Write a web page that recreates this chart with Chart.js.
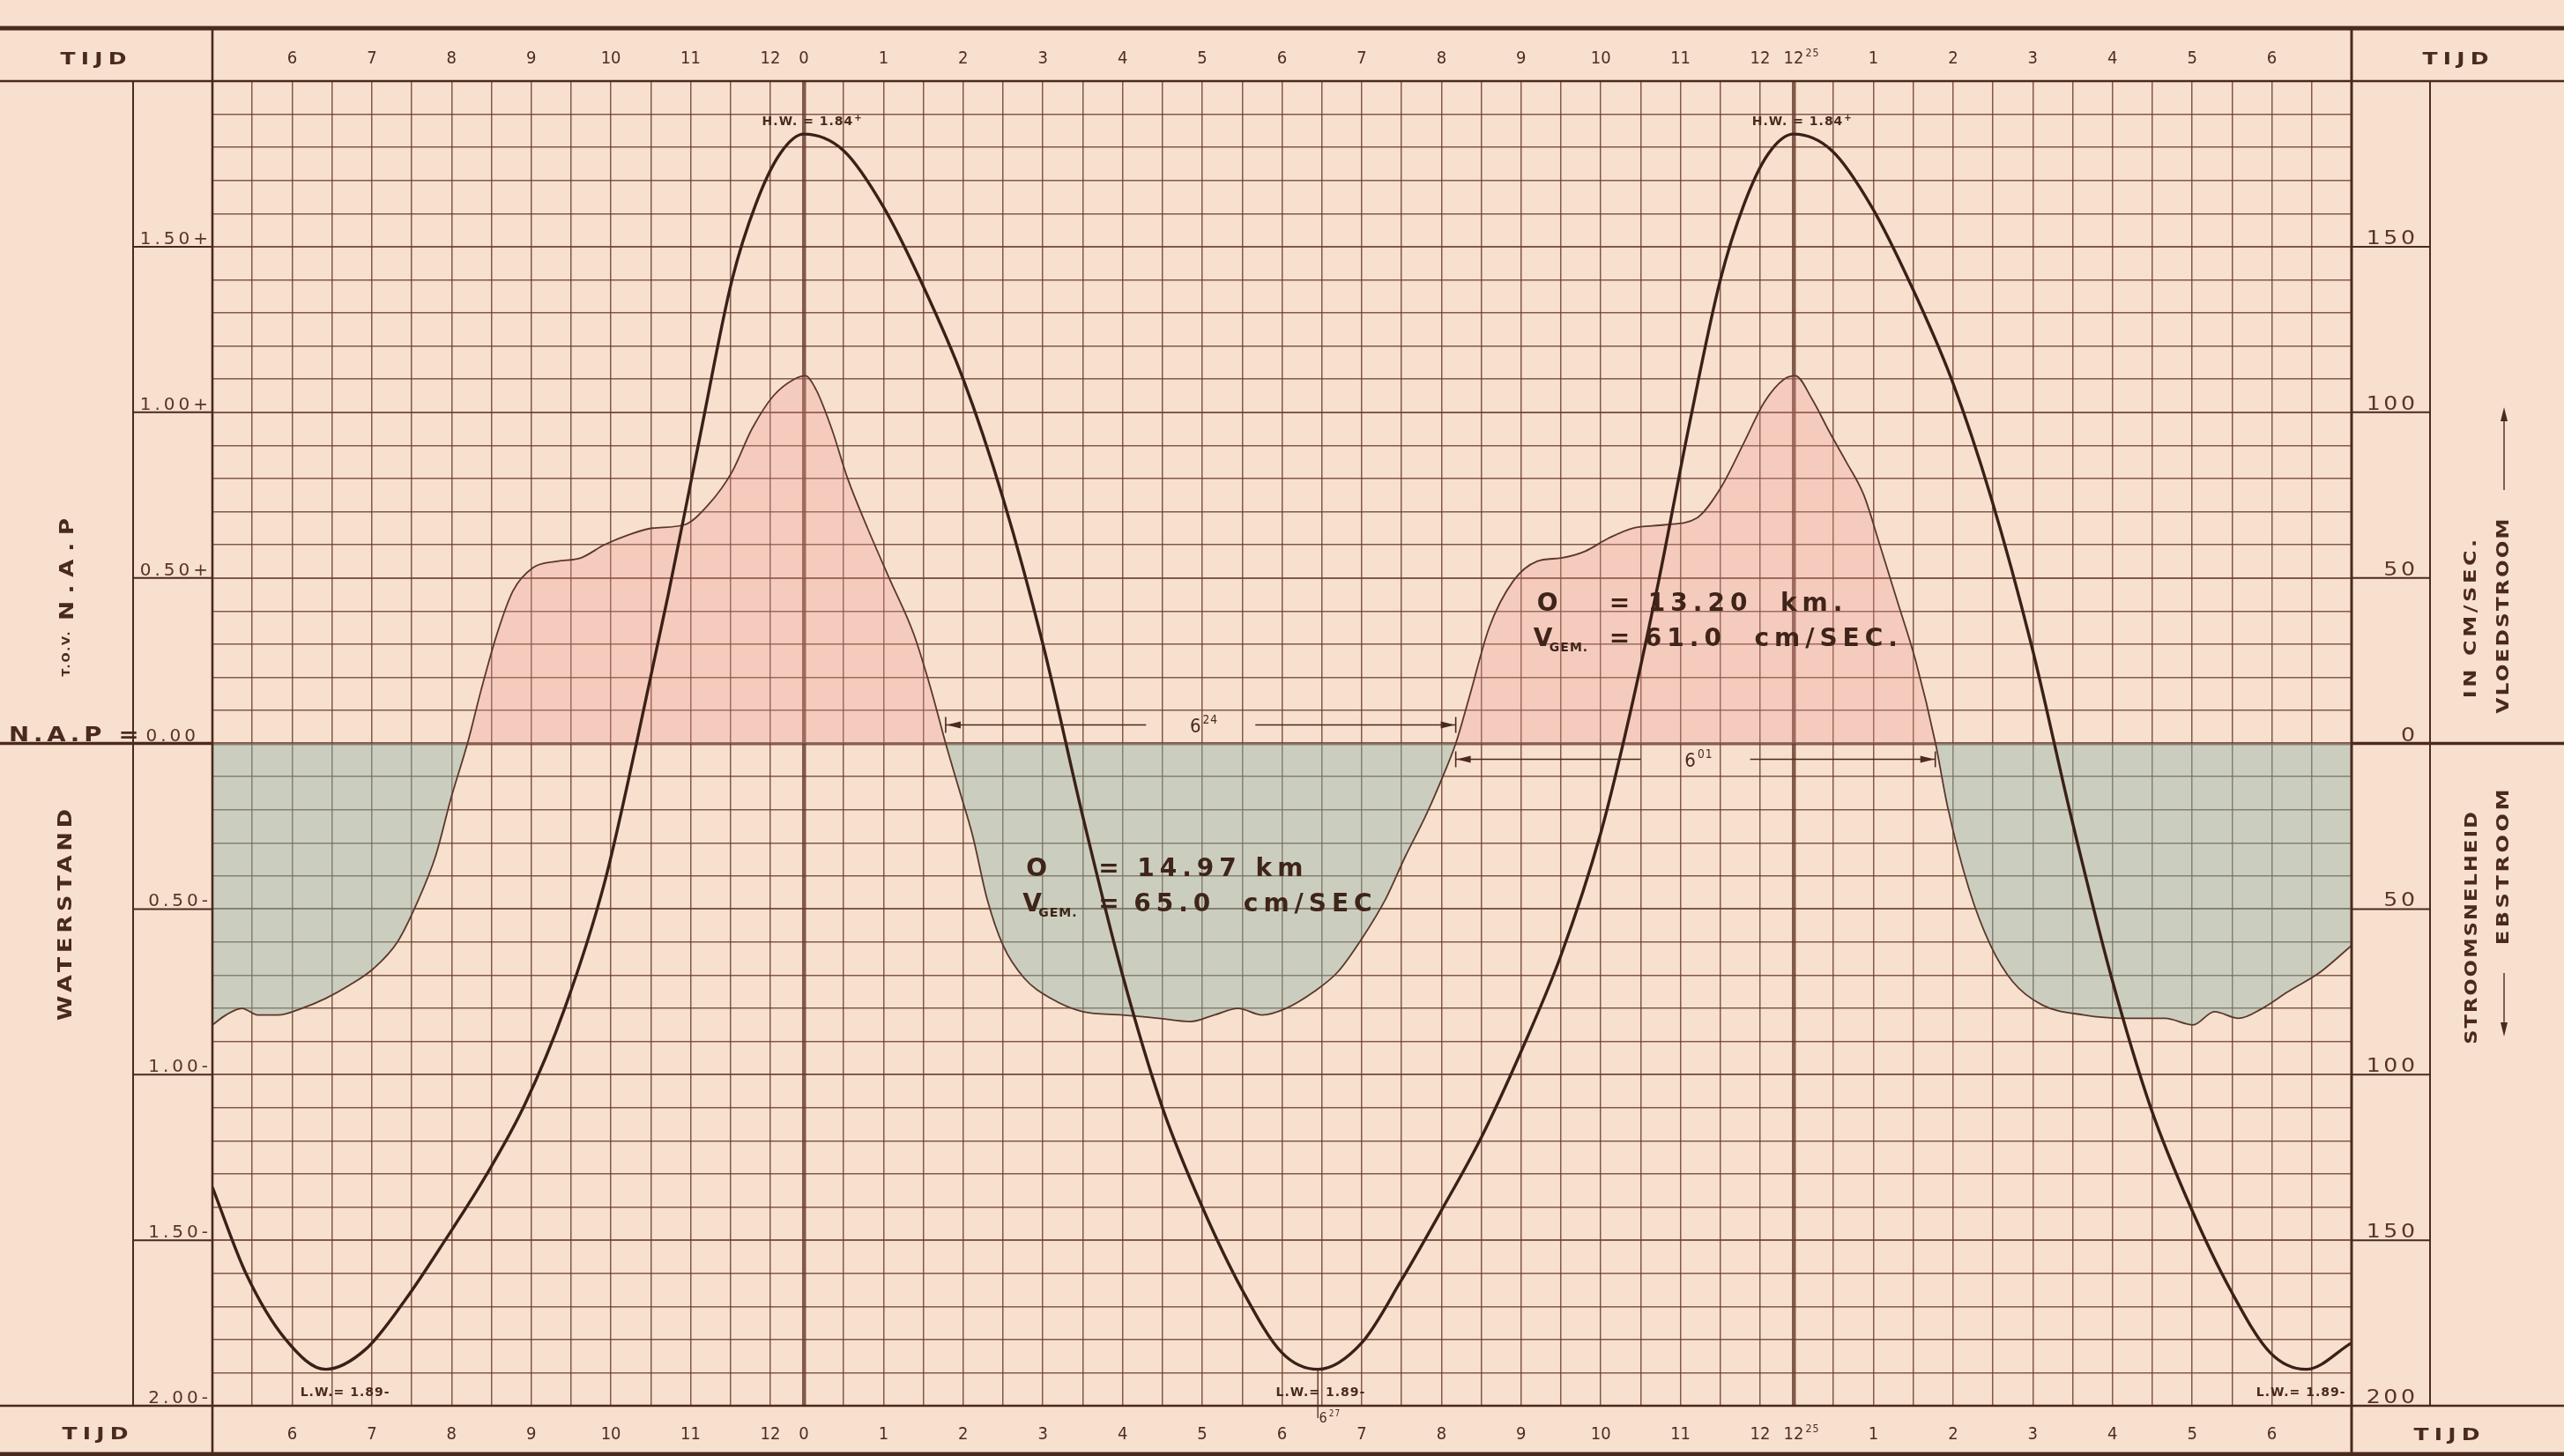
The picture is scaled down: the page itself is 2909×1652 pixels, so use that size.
<!DOCTYPE html>
<html lang="nl">
<head>
<meta charset="utf-8">
<title>Getijkromme – waterstand en stroomsnelheid</title>
<script src="https://cdn.jsdelivr.net/npm/chart.js@4.4.1/dist/chart.umd.min.js"></script>
<style>
  html, body { margin: 0; padding: 0; background: #f8e0ce; }
  #sheet { position: relative; width: 2909px; height: 1652px; }
  canvas { display: block; }
</style>
</head>
<body>
<div id="sheet"><canvas id="tide" width="2909" height="1652"></canvas></div>
<script>
// ---------- time axis: hours after the first high water ----------
const hourLabels = ['6','7','8','9','10','11','12','0','1','2','3','4','5','6','7','8','9','10','11','12','12^25','1','2','3','4','5','6'];
const hourTimes  = [-6.42,-5.42,-4.42,-3.42,-2.42,-1.42,-0.42,0,1,2,3,4,5,6,7,8,9,10,11,12,12.42,13.42,14.42,15.42,16.42,17.42,18.42];
const highWaterTimes = [0, 12.42];
const X_MIN = -7.42, X_MAX = 19.42;

// ---------- water level, m relative to N.A.P. ----------
const tideHours  = [-7.42,-7.0,-6.5,-6.0,-5.5,-5.0,-4.5,-4.0,-3.5,-3.0,-2.5,-2.1,-1.7,-1.3,-0.9,-0.6,-0.3,0,
                    0.5,1.0,1.5,2.0,2.5,3.0,3.5,4.0,4.5,5.0,5.5,6.0,6.45,7.0,7.5,8.0,8.5,9.0,9.5,10.0,10.3,
                    10.7,11.1,11.5,11.8,12.1,12.42,12.9,13.4,13.9,14.4,14.9,15.4,15.9,16.4,16.9,17.4,17.9,18.4,18.85,19.42];
const tideLevels = [-1.34,-1.60,-1.80,-1.89,-1.83,-1.68,-1.50,-1.31,-1.09,-0.80,-0.42,0.00,0.45,0.93,1.40,1.63,1.78,1.84,
                    1.79,1.62,1.38,1.10,0.74,0.30,-0.22,-0.70,-1.10,-1.40,-1.65,-1.84,-1.89,-1.81,-1.62,-1.41,-1.19,-0.93,-0.64,-0.27,0.02,
                    0.46,0.95,1.40,1.63,1.78,1.84,1.79,1.62,1.38,1.10,0.74,0.30,-0.22,-0.70,-1.10,-1.40,-1.65,-1.84,-1.89,-1.81];

// ---------- current speed, cm/sec (flood +, ebb -) ----------
const currentHours  = [-7.42,-7.25,-7.05,-6.85,-6.6,-6.3,-6.0,-5.7,-5.4,-5.1,-4.85,-4.62,-4.42,-4.22,-4.05,-3.85,-3.65,-3.4,-3.1,-2.8,-2.5,-2.2,-1.9,-1.5,-1.2,-0.9,-0.65,-0.38,-0.12,0.02,
                       0.15,0.35,0.55,0.8,1.07,1.38,1.6,1.78,1.95,2.12,2.3,2.5,2.77,3.1,3.5,4.0,4.45,4.85,5.15,5.45,5.75,6.05,6.4,6.7,7.0,7.3,7.55,7.8,8.0,8.18,
                       8.35,8.6,8.9,9.2,9.5,9.8,10.1,10.4,10.8,11.2,11.5,11.8,12.05,12.3,12.44,12.65,12.87,13.08,13.3,13.5,13.72,13.95,14.2,
                       14.35,14.62,14.89,15.17,15.54,16.06,16.57,17.08,17.43,17.7,18.0,18.3,18.62,19.03,19.42];
const currentSpeeds = [-85,-82,-80,-82,-82,-80,-77,-73,-68,-60,-48,-34,-16,0,16,33,46,53,55,56,60,63,65,66,72,82,95,105,110,111,
                       107,95,80,65,50,33,16,0,-14,-28,-47,-61,-71,-77,-81,-82,-83,-84,-82,-80,-82,-80,-75,-69,-59,-47,-34,-22,-11,0,
                       14,35,49,55,56,58,62,65,66,68,77,91,103,110,111,104,94,85,75,60,43,25,0,
                       -19,-44,-61,-72,-79,-82,-83,-83,-85,-81,-83,-80,-75,-69,-61];

// ---------- axis labels ----------
const levelTicks      = [1.5, 1.0, 0.5, 0, -0.5, -1.0, -1.5, -2.0];
const levelTickLabels = ['1.50+','1.00+','0.50+','0.00','0.50-','1.00-','1.50-','2.00-'];
const speedTicks      = [150, 100, 50, 0, -50, -100, -150, -200];
const speedTickLabels = ['150','100','50','0','50','100','150','200'];

// ---------- tide marks ----------
const highWater = { level: 1.84, text: 'H.W. = 1.84^+' };
const lowWater  = { level: -1.89, times: [-6.0, 6.45, 18.85], labelTimes: [-5.76, 6.48, 18.78], text: 'L.W.= 1.89-' };
const lowWaterClock = '6^27';
const ebbStart = 1.78;
const ebbDuration = 6 + 24 / 60, ebbLabel = '6^24';
const floodDuration = 6 + 1 / 60, floodLabel = '6^01';
const ebbSummary   = { dist: '14.97 km',  speed: '65.0  cm/SEC'  };
const floodSummary = { dist: '13.20  km.', speed: '61.0  cm/SEC.' };

// ---------- sheet layout ----------
const W = 2909, H = 1652;
const HEAD_TOP = 32, FOOT_BOTTOM = 1650;
const COL_LEFT = 151, COL_RIGHT = 2757;
const PAPER = '#f8e0ce';
const INK = '#4a2a1e';
const RULE = 'rgba(104,60,44,0.82)';
const FONT = '"DejaVu Sans", "Liberation Sans", sans-serif';
const NARROW = '"DejaVu Sans Condensed", "Liberation Sans Narrow", "DejaVu Sans", sans-serif';

// half-hour rulings; the two high-water lines carry their own 30-minute series
const gridTimes = [];
for (let k = 0; k <= 14; k++) gridTimes.push(-0.42 - 0.5 * k);
for (let k = 0; k <= 24; k++) gridTimes.push(0.5 * k);
for (let k = 0; k <= 14; k++) gridTimes.push(12.42 + 0.5 * k);
const levelGrid = [];
for (let k = -20; k <= 20; k++) levelGrid.push(k / 10);

function txt(ctx, s, x, y, o) {
  o = o || {};
  ctx.save();
  ctx.fillStyle = o.color || INK;
  ctx.font = (o.weight || 'normal') + ' ' + (o.size || 18) + 'px ' + (o.family || FONT);
  const sp = o.spacing || 0;
  try { ctx.letterSpacing = sp + 'px'; } catch (e) {}
  ctx.textBaseline = o.baseline || 'alphabetic';
  ctx.textAlign = 'left';
  const sx = o.stretch || 1;
  const w = (ctx.measureText(s).width - sp) * sx;
  let left = x;
  if (o.align === 'center') left = x - w / 2;
  else if (o.align === 'right') left = x - w;
  ctx.translate(left, y);
  ctx.scale(sx, 1);
  ctx.fillText(s, 0, 0);
  ctx.restore();
  return w;
}
function vtxt(ctx, s, cx, cy, o) {
  ctx.save();
  ctx.translate(cx, cy);
  ctx.rotate(-Math.PI / 2);
  txt(ctx, s, 0, 0, Object.assign({ align: 'center', baseline: 'middle' }, o));
  ctx.restore();
}
// label with a raised part after '^', the base part centred on x
function supTxt(ctx, label, x, y, o) {
  const parts = label.split('^');
  const w = txt(ctx, parts[0], x, y, Object.assign({}, o, { align: 'center' }));
  if (parts[1]) txt(ctx, parts[1], x + w / 2 + 2, y - o.size * 0.42, Object.assign({}, o, { size: o.size * 0.62, align: 'left', spacing: 1 }));
}
function line(ctx, x1, y1, x2, y2, w, c) {
  ctx.save();
  ctx.strokeStyle = c || INK;
  ctx.lineWidth = w;
  ctx.beginPath(); ctx.moveTo(x1, y1); ctx.lineTo(x2, y2); ctx.stroke();
  ctx.restore();
}
function arrowHead(ctx, x, y, dx, dy, len, half) {
  ctx.save();
  ctx.fillStyle = INK;
  ctx.beginPath();
  ctx.moveTo(x, y);
  ctx.lineTo(x - dx * len - dy * half, y - dy * len - dx * half);
  ctx.lineTo(x - dx * len + dy * half, y - dy * len + dx * half);
  ctx.closePath(); ctx.fill();
  ctx.restore();
}
// dimension line  |<----  label  ---->|
function dimLine(ctx, x1, x2, y, label) {
  const mid = (x1 + x2) / 2;
  const gap = 62;
  line(ctx, x1, y, mid - gap, y, 1.4);
  line(ctx, mid + gap, y, x2, y, 1.4);
  line(ctx, x1, y - 9, x1, y + 9, 1.6);
  line(ctx, x2, y - 9, x2, y + 9, 1.6);
  arrowHead(ctx, x1 + 1, y, -1, 0, 16, 4);
  arrowHead(ctx, x2 - 1, y, 1, 0, 16, 4);
  supTxt(ctx, label, mid - 6, y + 8, { size: 22, family: NARROW });
}

const sheetPlugin = {
  id: 'sheet',
  beforeDraw(chart) {
    const ctx = chart.ctx;
    ctx.save();
    ctx.fillStyle = PAPER;
    ctx.fillRect(0, 0, W, H);
    ctx.restore();
  },
  afterDraw(chart) {
    const ctx = chart.ctx;
    const a = chart.chartArea;
    const xs = chart.scales.x, ys = chart.scales.y, vs = chart.scales.y2;
    const y0 = ys.getPixelForValue(0);

    // outer frame of the sheet
    line(ctx, 0, HEAD_TOP, W, HEAD_TOP, 5);
    line(ctx, 0, a.top, W, a.top, 2.6);
    line(ctx, 0, a.bottom, W, a.bottom, 2.6);
    line(ctx, 0, FOOT_BOTTOM, W, FOOT_BOTTOM, 5);
    line(ctx, a.left, HEAD_TOP, a.left, H, 2.6);
    line(ctx, a.right, HEAD_TOP, a.right, H, 3);
    line(ctx, COL_LEFT, a.top, COL_LEFT, a.bottom, 2);
    line(ctx, COL_RIGHT, a.top, COL_RIGHT, a.bottom, 2);
    line(ctx, 0, y0, a.left, y0, 3.4);
    line(ctx, a.right, y0, W, y0, 3.4);

    // level scale (left) and speed scale (right)
    levelTicks.forEach((v, i) => {
      const y = ys.getPixelForValue(v);
      if (v !== 0 && v > -2) line(ctx, COL_LEFT, y, a.left, y, 2);
      const isZero = v === 0;
      txt(ctx, levelTickLabels[i], isZero ? 222 : 236, y - 3, { size: 20, spacing: 4, align: 'right', color: '#5a3426' });
    });
    speedTicks.forEach((v, i) => {
      const y = vs.getPixelForValue(v);
      if (v !== 0 && v > -200) line(ctx, a.right, y, COL_RIGHT, y, 2);
      txt(ctx, speedTickLabels[i], 2740, y - 3, { size: 21, spacing: 3, stretch: 1.2, align: 'right', color: '#5a3426' });
    });

    // time scale in header and footer
    const hourStyle = { size: 20, family: NARROW, color: '#4e2c20' };
    hourLabels.forEach((lab, i) => {
      const x = xs.getPixelForValue(hourTimes[i]);
      supTxt(ctx, lab, x, 72, hourStyle);
      supTxt(ctx, lab, x, 1633, hourStyle);
    });
    const tijd = { size: 20, weight: 'bold', spacing: 5, stretch: 1.25, align: 'center' };
    txt(ctx, 'TIJD', 106, 73, tijd);
    txt(ctx, 'TIJD', 108, 1633, tijd);
    txt(ctx, 'TIJD', 2786, 73, tijd);
    txt(ctx, 'TIJD', 2776, 1634, tijd);

    // axis titles
    txt(ctx, 'N.A.P =', 10, y0 - 3, { size: 23, weight: 'bold', spacing: 4, stretch: 1.2 });
    vtxt(ctx, 'WATERSTAND', 76, 1038, { size: 21, weight: 'bold', spacing: 4, stretch: 1.22 });
    vtxt(ctx, 'T.O.V.', 76, 742, { size: 13, weight: 'bold', spacing: 2 });
    vtxt(ctx, 'N.A.P', 77, 646, { size: 22, weight: 'bold', spacing: 7, stretch: 1.2 });
    vtxt(ctx, 'IN CM/SEC.', 2804, 702, { size: 20, weight: 'bold', spacing: 3, stretch: 1.2 });
    vtxt(ctx, 'VLOEDSTROOM', 2841, 699, { size: 20, weight: 'bold', spacing: 2, stretch: 1.15 });
    vtxt(ctx, 'STROOMSNELHEID', 2805, 1053, { size: 20, weight: 'bold', spacing: 2, stretch: 1.12 });
    vtxt(ctx, 'EBSTROOM', 2841, 984, { size: 20, weight: 'bold', spacing: 3, stretch: 1.2 });
    line(ctx, 2841, 556, 2841, 472, 1.4);
    arrowHead(ctx, 2841, 462, 0, -1, 16, 4);
    line(ctx, 2841, 1104, 2841, 1166, 1.4);
    arrowHead(ctx, 2841, 1176, 0, 1, 16, 4);

    // high and low water marks
    highWaterTimes.forEach(t => {
      const x = xs.getPixelForValue(t);
      const y = ys.getPixelForValue(highWater.level) - 10;
      const parts = highWater.text.split('^');
      const w = txt(ctx, parts[0], x + 4, y, { size: 14, weight: 'bold', spacing: 1, align: 'center' });
      txt(ctx, parts[1], x + 4 + w / 2 + 2, y - 5, { size: 10, weight: 'bold' });
    });
    lowWater.labelTimes.forEach(t => {
      const x = xs.getPixelForValue(t);
      const y = ys.getPixelForValue(lowWater.level) + 30;
      txt(ctx, lowWater.text, x, y, { size: 14, weight: 'bold', spacing: 1, align: 'center' });
    });
    const xLw = xs.getPixelForValue(lowWater.times[1]);
    line(ctx, xLw, ys.getPixelForValue(lowWater.level), xLw, a.bottom + 14, 1.3);
    supTxt(ctx, lowWaterClock, xLw + 6, 1614, { size: 16, family: NARROW });

    // durations of ebb and flood current
    const xe1 = xs.getPixelForValue(ebbStart);
    const xe2 = xs.getPixelForValue(ebbStart + ebbDuration);
    const xf2 = xs.getPixelForValue(ebbStart + ebbDuration + floodDuration);
    dimLine(ctx, xe1, xe2, y0 - 21, ebbLabel);
    dimLine(ctx, xe2, xf2, y0 + 18, floodLabel);

    // mean current summaries
    const big = { size: 28, weight: 'bold', spacing: 6, color: '#3f2419' };
    const sub = { size: 14, weight: 'bold', spacing: 1, color: '#3f2419' };
    function summary(x0, yb, s) {
      txt(ctx, 'O', x0, yb, big);
      txt(ctx, '=', x0 + 82, yb, big);
      txt(ctx, s.dist, x0 + 126, yb, big);
      txt(ctx, 'V', x0 - 4, yb + 40, big);
      txt(ctx, 'GEM.', x0 + 14, yb + 46, sub);
      txt(ctx, '=', x0 + 82, yb + 40, big);
      txt(ctx, s.speed, x0 + 122, yb + 40, big);
    }
    summary(xs.getPixelForValue(2.79), vs.getPixelForValue(-40), ebbSummary);
    summary(xs.getPixelForValue(9.2), vs.getPixelForValue(40), floodSummary);
  }
};

new Chart(document.getElementById('tide'), {
  type: 'line',
  data: {
    datasets: [
      {
        label: 'Waterstand',
        data: tideHours.map((t, i) => ({ x: t, y: tideLevels[i] })),
        yAxisID: 'y',
        borderColor: '#3b2017',
        borderWidth: 3.4,
        pointRadius: 0,
        cubicInterpolationMode: 'monotone',
        fill: false,
        order: 0
      },
      {
        label: 'Stroomsnelheid',
        data: currentHours.map((t, i) => ({ x: t, y: currentSpeeds[i] })),
        yAxisID: 'y2',
        borderColor: '#5a382b',
        borderWidth: 1.8,
        pointRadius: 0,
        cubicInterpolationMode: 'monotone',
        fill: { target: { value: 0 }, above: 'rgba(236,150,150,0.28)', below: 'rgba(140,182,172,0.42)' },
        order: 1
      }
    ]
  },
  options: {
    responsive: false,
    animation: false,
    devicePixelRatio: 1,
    layout: { padding: { left: 241, right: W - 2668, top: 92, bottom: H - 1595 } },
    plugins: { legend: { display: false }, tooltip: { enabled: false } },
    scales: {
      x: {
        type: 'linear', min: X_MIN, max: X_MAX,
        afterBuildTicks: s => { s.ticks = gridTimes.map(v => ({ value: v })); },
        afterFit: s => { s.height = 0; },
        ticks: { display: false },
        border: { display: false },
        grid: {
          drawTicks: false, color: RULE,
          lineWidth: c => highWaterTimes.includes(c.tick && c.tick.value) ? 4.5 : 1.5
        }
      },
      y: {
        position: 'left', min: -2, max: 2,
        afterBuildTicks: s => { s.ticks = levelGrid.map(v => ({ value: v })); },
        afterFit: s => { s.width = 0; },
        ticks: { display: false },
        border: { display: false },
        grid: {
          drawTicks: false, color: RULE,
          lineWidth: c => {
            const v = c.tick ? c.tick.value : 1;
            if (Math.abs(v) < 1e-9) return 3.4;
            if (Math.abs(v * 2 - Math.round(v * 2)) < 1e-9) return 2.1;
            return 1.4;
          }
        }
      },
      y2: {
        position: 'right', min: -200, max: 200,
        afterFit: s => { s.width = 0; },
        ticks: { display: false },
        border: { display: false },
        grid: { display: false }
      }
    }
  },
  plugins: [sheetPlugin]
});
</script>
</body>
</html>
